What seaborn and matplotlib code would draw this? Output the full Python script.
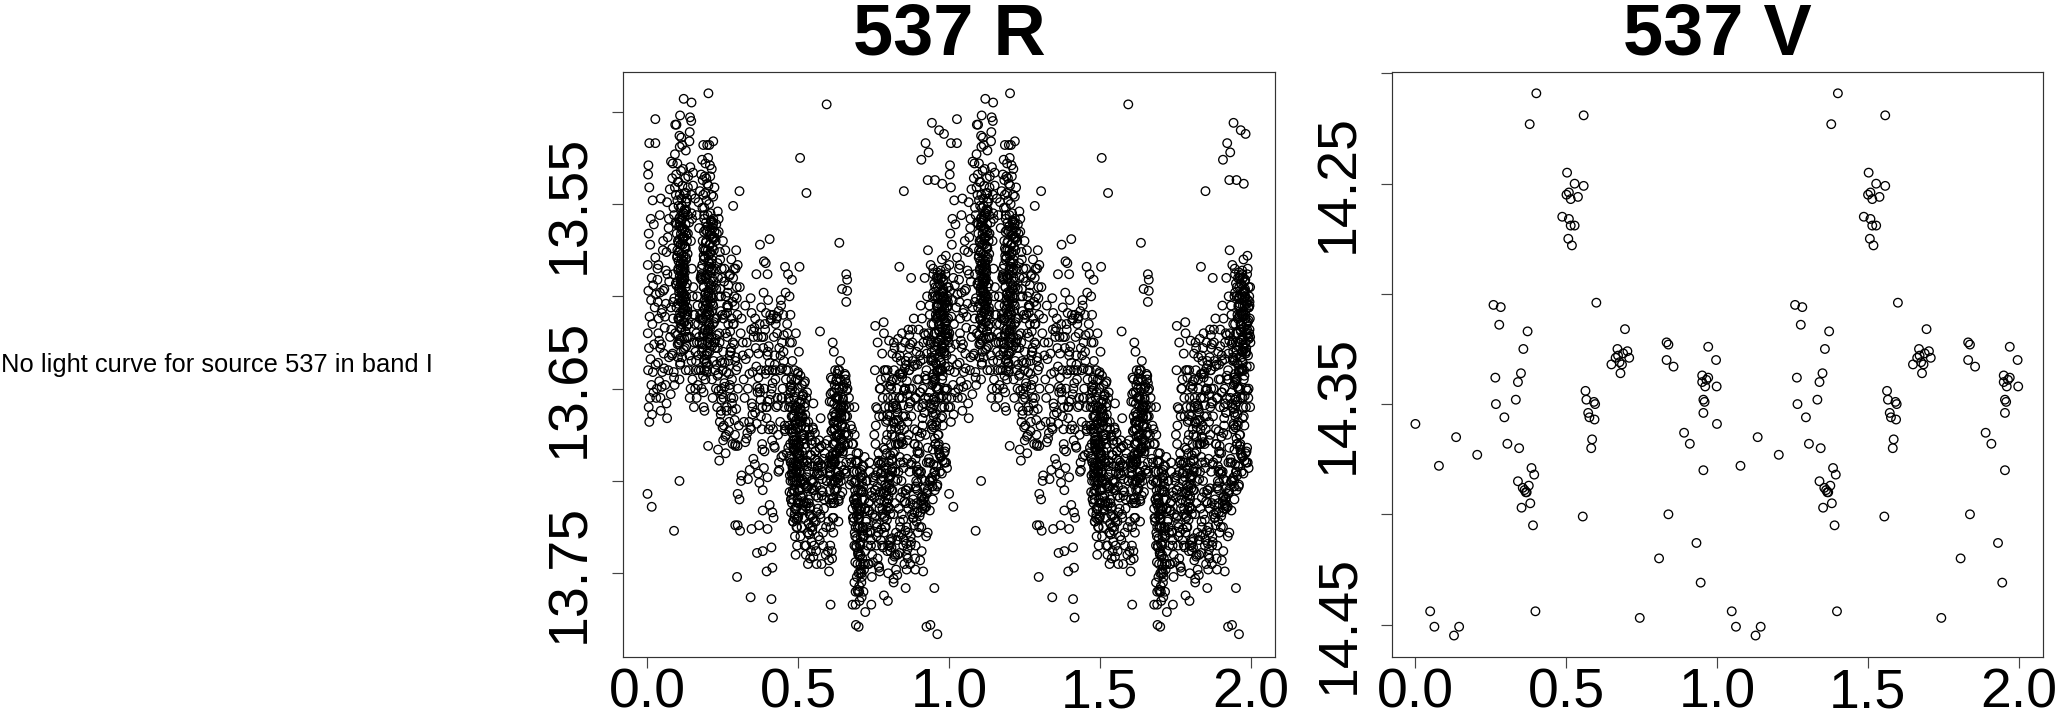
import matplotlib
matplotlib.use("Agg")
import matplotlib.pyplot as plt
import pandas as pd
import seaborn as sns

# ---- V band, one cycle ----
v_phase = [.000,.049,.063,.078,.128,.135,.145,.205,.259,.265,.267,.278,.283,.295,.305,.333,.340,.340,.344,.350,
           .352,.358,.356,.362,.366,.369,.376,.372,.379,.381,.385,.390,.394,.398,.401,.487,.503,.501,.507,.509,
           .509,.515,.515,.519,.528,.528,.539,.555,.558,.558,.564,.567,.573,.577,.586,.583,.592,.596,.594,.600,
           .650,.664,.670,.672,.677,.680,.685,.689,.695,.703,.709,.744,.808,.833,.839,.833,.839,.856,.891,.910,
           .932,.946,.951,.951,.955,.959,.955,.955,.961,.965,.971,.971,.997,.999]
v_mag = [14.359,14.444,14.451,14.378,14.455,14.365,14.451,14.373,14.305,14.338,14.350,14.314,14.306,14.356,14.368,14.348,14.385,14.340,14.370,14.336,
         14.397,14.325,14.388,14.389,14.390,14.390,14.387,14.317,14.223,14.395,14.379,14.405,14.382,14.444,14.209,14.265,14.245,14.255,14.275,14.254,
         14.266,14.269,14.257,14.278,14.250,14.269,14.256,14.401,14.219,14.251,14.344,14.348,14.354,14.356,14.366,14.370,14.349,14.350,14.357,14.304,
         14.332,14.329,14.325,14.328,14.331,14.336,14.332,14.327,14.316,14.326,14.329,14.447,14.420,14.322,14.323,14.330,14.400,14.333,14.363,14.368,
         14.413,14.431,14.337,14.340,14.348,14.349,14.354,14.380,14.342,14.339,14.338,14.324,14.330,14.342]

# ---- R band, isolated points of one cycle ----
r_edge_phase = [.202,.120,.146,.594,.026,.108,.141,.145,.092,.096,.140,.106,.006,.026,.218,.198,.185,.205,.003,.506,
                .527,.636,.305,.284,.405,.373,.386,.392,.361,.398,.456,.504,.466,.479,.294,.299,.659,.662,.645,.662,
                .659,.342,.345,.572,.755,.835,.850,.943,.967,.983,.922,.932,.908,.929,.953,.977,.000,.014,.106,.088,
                .201,.291,.299,.310,.299,.305,.291,.299,.307,.297,.342,.345,.370,.398,.363,.382,.411,.395,.414,.411,
                .416,.382,.398,.382,.405,.414,.418,.607,.602,.602,.691,.700,.690,.698,.690,.722,.742,.710,.680,.784,
                .797,.816,.856,.859,.914,.904,.925,.938,.961,.951,.960,.935,.985,.970]
r_edge_mag = [13.490,13.493,13.495,13.496,13.504,13.502,13.503,13.505,13.507,13.507,13.511,13.513,13.517,13.517,13.516,13.518,13.518,13.518,13.529,13.525,
              13.544,13.571,13.543,13.551,13.569,13.572,13.581,13.582,13.588,13.588,13.584,13.584,13.588,13.591,13.575,13.583,13.588,13.591,13.596,13.597,
              13.603,13.601,13.609,13.619,13.616,13.584,13.543,13.506,13.510,13.512,13.517,13.522,13.526,13.537,13.537,13.539,13.707,13.714,13.700,13.727,
              13.681,13.680,13.681,13.700,13.707,13.710,13.724,13.724,13.727,13.752,13.763,13.726,13.724,13.726,13.739,13.738,13.736,13.749,13.747,13.764,
              13.774,13.705,13.698,13.716,13.713,13.717,13.720,13.767,13.749,13.743,13.778,13.779,13.760,13.760,13.767,13.771,13.767,13.763,13.767,13.762,
              13.765,13.755,13.758,13.748,13.749,13.743,13.779,13.778,13.783,13.758,13.703,13.700,13.690,13.695]

# ---- R band, crowded part of one cycle, estimated by eye ----
r_core_phase = [
 .002,.006,.011,.004,.017,.009,.021,.001,.014,.026, .003,.012,.019,.007,.024,.001,.016,.028,.005,.010,
 .022,.002,.013,.008,.018,.004,.027,.015,.006,.020, .033,.041,.037,.052,.046,.061,.035,.057,.072,.049,
 .039,.066,.043,.075,.054,.031,.069,.047,.063,.078, .036,.059,.044,.071,.051,.034,.077,.065,.056,.042,
 .084,.091,.088,.095,.082,.099,.086,.093,.097,.089, .101,.085,.103,.092,.107,.098,.083,.105,.094,.109,
 .111,.096,.113,.087,.115,.102,.118,.090,.112,.104, .116,.108,.121,.100,.117,.110,.123,.106,.119,.114,
 .125,.112,.122,.109,.127,.115,.120,.104,.124,.118, .129,.107,.126,.113,.131,.119,.128,.111,.133,.116,
 .122,.103,.125,.110,.130,.114,.127,.108,.120,.117, .113,.123,.106,.128,.118,.132,.101,.121,.126,.115,
 .111,.124,.119,.105,.129,.116,.122,.134,.109,.127, .135,.138,.142,.136,.145,.139,.148,.141,.151,.144,
 .153,.137,.147,.155,.143,.150,.140,.157,.146,.152, .159,.149,.156,.162,.154,.160,.164,.158,.166,.161,
 .168,.163,.170,.165,.172,.167,.174,.169,.176,.171, .178,.182,.175,.185,.180,.188,.177,.183,.190,.186,
 .192,.179,.194,.184,.187,.196,.181,.191,.198,.189, .193,.200,.186,.195,.202,.184,.197,.204,.190,.199,
 .206,.188,.201,.208,.194,.203,.210,.192,.205,.212, .197,.207,.183,.214,.200,.209,.191,.216,.204,.211,
 .196,.218,.206,.186,.213,.199,.220,.208,.193,.215, .202,.217,.189,.222,.210,.198,.219,.205,.224,.212,
 .226,.214,.228,.221,.230,.216,.232,.223,.234,.218, .236,.225,.238,.220,.240,.227,.242,.229,.244,.231,
 .246,.233,.248,.235,.250,.237,.252,.239,.254,.241, .256,.243,.258,.245,.260,.247,.262,.249,.264,.251,
 .266,.253,.268,.255,.270,.257,.272,.259,.274,.261, .276,.263,.278,.265,.280,.267,.282,.269,.284,.271,
 .286,.273,.288,.275,.290,.277,.292,.279,.294,.281, .296,.283,.298,.285,.300,.287,.303,.289,.306,.291,
 .309,.312,.316,.320,.324,.329,.333,.338,.343,.348, .352,.357,.361,.365,.368,.372,.375,.378,.381,.384,
 .387,.390,.393,.396,.399,.402,.405,.408,.411,.414, .366,.371,.376,.380,.385,.389,.394,.398,.403,.407,
 .412,.416,.419,.422,.425,.428,.431,.434,.437,.440, .417,.421,.424,.427,.430,.433,.436,.439,.442,.444,
 .446,.448,.450,.452,.454,.456,.458,.460,.462,.464, .443,.447,.451,.455,.459,.463,.467,.471,.475,.479,
 .466,.468,.470,.472,.474,.476,.478,.480,.482,.484, .486,.488,.490,.492,.494,.496,.498,.500,.502,.504,
 .469,.473,.477,.481,.485,.489,.493,.497,.501,.505, .470,.475,.480,.483,.487,.491,.495,.499,.503,.507,
 .472,.478,.482,.486,.490,.494,.498,.502,.506,.509, .474,.479,.484,.488,.492,.496,.500,.504,.508,.511,
 .476,.481,.485,.489,.493,.497,.501,.505,.510,.513, .483,.487,.491,.495,.499,.503,.507,.512,.515,.518,
 .514,.517,.520,.523,.526,.529,.532,.535,.538,.541, .516,.519,.522,.525,.528,.531,.534,.537,.540,.543,
 .521,.524,.527,.530,.533,.536,.539,.542,.545,.548, .544,.547,.550,.553,.556,.559,.562,.565,.568,.571,
 .546,.549,.552,.555,.558,.561,.564,.567,.570,.573, .574,.577,.580,.583,.586,.589,.592,.595,.598,.601,
 .576,.579,.582,.585,.588,.591,.594,.597,.600,.603, .604,.606,.608,.610,.612,.614,.616,.618,.620,.622,
 .605,.607,.609,.611,.613,.615,.617,.619,.621,.623, .610,.612,.614,.616,.618,.620,.622,.624,.626,.628,
 .625,.627,.629,.631,.633,.635,.637,.639,.641,.643, .615,.618,.621,.624,.627,.630,.633,.636,.639,.642,
 .612,.616,.620,.624,.628,.632,.636,.640,.644,.648, .645,.648,.651,.654,.657,.660,.663,.666,.669,.672,
 .646,.650,.653,.656,.659,.662,.665,.668,.671,.674, .676,.678,.680,.682,.684,.686,.688,.690,.692,.694,
 .677,.679,.681,.683,.685,.687,.689,.691,.693,.695, .696,.698,.700,.702,.704,.706,.708,.710,.712,.714,
 .697,.699,.701,.703,.705,.707,.709,.711,.713,.715, .684,.688,.692,.696,.700,.704,.708,.712,.716,.720,
 .686,.690,.694,.698,.702,.706,.710,.714,.718,.722, .716,.719,.722,.725,.728,.731,.734,.737,.740,.743,
 .721,.724,.727,.730,.733,.736,.739,.742,.745,.748, .750,.753,.756,.759,.762,.765,.768,.771,.774,.777,
 .752,.755,.758,.761,.764,.767,.770,.773,.776,.779, .754,.757,.760,.763,.766,.769,.772,.775,.778,.781,
 .780,.783,.786,.789,.792,.795,.798,.801,.804,.807, .782,.785,.788,.791,.794,.797,.800,.803,.806,.809,
 .784,.787,.790,.793,.796,.799,.802,.805,.808,.811, .810,.813,.816,.819,.822,.825,.828,.831,.834,.837,
 .812,.815,.818,.821,.824,.827,.830,.833,.836,.839, .814,.817,.820,.823,.826,.829,.832,.835,.838,.841,
 .840,.843,.846,.849,.852,.855,.858,.861,.864,.867, .842,.845,.848,.851,.854,.857,.860,.863,.866,.869,
 .844,.847,.850,.853,.856,.859,.862,.865,.868,.871, .870,.873,.876,.879,.882,.885,.888,.891,.894,.897,
 .872,.875,.878,.881,.884,.887,.890,.893,.896,.899, .874,.877,.880,.883,.886,.889,.892,.895,.898,.901,
 .900,.903,.906,.909,.912,.915,.918,.921,.924,.927, .902,.905,.908,.911,.914,.917,.920,.923,.926,.929,
 .904,.907,.910,.913,.916,.919,.922,.925,.928,.931, .930,.933,.936,.939,.942,.945,.948,.951,.954,.957,
 .932,.935,.938,.941,.944,.947,.950,.953,.956,.959, .946,.949,.952,.955,.958,.961,.964,.967,.970,.973,
 .948,.951,.954,.957,.960,.963,.966,.969,.972,.975, .960,.962,.965,.968,.971,.974,.977,.980,.983,.986,
 .962,.964,.967,.970,.973,.976,.979,.982,.985,.988, .972,.975,.978,.981,.984,.987,.990,.993,.996,.999,
 .974,.977,.980,.983,.986,.989,.992,.995,.998,.997, .976,.979,.982,.985,.988,.991,.994,.996,.998,.993,
]
r_core_mag = [
 13.534,13.541,13.558,13.566,13.548,13.572,13.561,13.583,13.590,13.579, 13.597,13.602,13.594,13.611,13.606,13.620,13.615,13.599,13.628,13.634,
 13.626,13.640,13.648,13.655,13.641,13.660,13.637,13.664,13.668,13.652, 13.585,13.598,13.612,13.570,13.626,13.604,13.636,13.617,13.592,13.641,
 13.646,13.588,13.655,13.622,13.631,13.650,13.640,13.609,13.658,13.606, 13.620,13.648,13.662,13.633,13.575,13.603,13.653,13.666,13.596,13.628,
 13.528,13.541,13.556,13.534,13.574,13.548,13.588,13.560,13.566,13.601, 13.538,13.612,13.551,13.620,13.545,13.579,13.631,13.562,13.593,13.572,
 13.532,13.606,13.547,13.641,13.558,13.585,13.569,13.648,13.596,13.576, 13.540,13.609,13.555,13.626,13.568,13.582,13.553,13.601,13.578,13.590,
 13.536,13.617,13.564,13.636,13.544,13.593,13.583,13.612,13.574,13.604, 13.549,13.623,13.561,13.598,13.570,13.587,13.580,13.630,13.556,13.608,
 13.590,13.625,13.603,13.572,13.616,13.563,13.595,13.637,13.581,13.568, 13.577,13.585,13.645,13.600,13.592,13.610,13.633,13.607,13.619,13.586,
 13.566,13.573,13.614,13.598,13.627,13.602,13.591,13.622,13.552,13.640, 13.535,13.560,13.530,13.615,13.545,13.632,13.558,13.622,13.540,13.570,
 13.610,13.640,13.585,13.625,13.650,13.600,13.655,13.615,13.635,13.595, 13.630,13.645,13.610,13.620,13.660,13.640,13.625,13.650,13.605,13.635,
 13.615,13.655,13.640,13.600,13.625,13.648,13.612,13.632,13.590,13.622, 13.585,13.552,13.610,13.545,13.630,13.558,13.640,13.570,13.535,13.595,
 13.544,13.650,13.560,13.605,13.580,13.548,13.625,13.618,13.565,13.640, 13.575,13.556,13.660,13.590,13.540,13.612,13.600,13.550,13.632,13.620,
 13.565,13.575,13.585,13.535,13.610,13.598,13.560,13.645,13.625,13.545, 13.636,13.572,13.628,13.590,13.608,13.555,13.618,13.568,13.582,13.600,
 13.640,13.560,13.610,13.652,13.580,13.625,13.575,13.595,13.590,13.568, 13.578,13.615,13.662,13.565,13.603,13.588,13.635,13.630,13.585,13.622,
 13.570,13.645,13.596,13.612,13.566,13.655,13.582,13.625,13.590,13.605, 13.565,13.640,13.620,13.595,13.576,13.650,13.635,13.612,13.600,13.660,
 13.585,13.628,13.610,13.642,13.570,13.600,13.655,13.625,13.592,13.580, 13.636,13.608,13.575,13.650,13.620,13.590,13.662,13.640,13.605,13.630,
 13.598,13.670,13.615,13.585,13.642,13.610,13.650,13.600,13.588,13.675, 13.630,13.660,13.580,13.622,13.645,13.605,13.680,13.635,13.590,13.668,
 13.615,13.648,13.600,13.630,13.675,13.655,13.585,13.612,13.640,13.662, 13.595,13.625,13.610,13.655,13.650,13.585,13.670,13.605,13.595,13.635,
 13.620,13.612,13.632,13.668,13.605,13.625,13.650,13.642,13.672,13.660, 13.622,13.612,13.638,13.652,13.631,13.615,13.640,13.622,13.660,13.628,
 13.650,13.618,13.640,13.660,13.630,13.672,13.656,13.670,13.612,13.640, 13.622,13.650,13.665,13.680,13.598,13.615,13.660,13.632,13.640,13.610,
 13.650,13.672,13.622,13.682,13.640,13.612,13.655,13.695,13.628,13.668, 13.610,13.632,13.645,13.660,13.620,13.675,13.690,13.640,13.602,13.655,
 13.625,13.650,13.610,13.635,13.660,13.672,13.598,13.640,13.685,13.620, 13.605,13.655,13.630,13.670,13.645,13.615,13.682,13.600,13.660,13.625,
 13.640,13.655,13.670,13.625,13.610,13.690,13.648,13.635,13.665,13.680, 13.655,13.640,13.672,13.620,13.695,13.660,13.645,13.680,13.630,13.705,
 13.660,13.680,13.645,13.700,13.670,13.652,13.715,13.685,13.665,13.695, 13.672,13.690,13.650,13.710,13.678,13.660,13.700,13.720,13.685,13.668,
 13.688,13.665,13.705,13.676,13.695,13.725,13.682,13.712,13.658,13.700, 13.700,13.672,13.690,13.715,13.680,13.735,13.705,13.668,13.692,13.725,
 13.710,13.695,13.680,13.730,13.700,13.720,13.688,13.705,13.715,13.675, 13.722,13.700,13.740,13.685,13.712,13.695,13.730,13.678,13.708,13.690,
 13.665,13.700,13.720,13.682,13.735,13.692,13.745,13.710,13.675,13.725, 13.690,13.712,13.680,13.740,13.698,13.728,13.672,13.718,13.686,13.704,
 13.735,13.668,13.712,13.690,13.728,13.695,13.742,13.700,13.678,13.720, 13.680,13.725,13.658,13.705,13.684,13.738,13.696,13.715,13.690,13.732,
 13.700,13.672,13.722,13.688,13.708,13.745,13.692,13.730,13.682,13.718, 13.720,13.745,13.695,13.735,13.710,13.680,13.725,13.700,13.738,13.690,
 13.705,13.692,13.728,13.715,13.685,13.740,13.700,13.678,13.722,13.710, 13.695,13.735,13.712,13.690,13.742,13.720,13.728,13.700,13.680,13.668,
 13.705,13.725,13.692,13.738,13.710,13.685,13.720,13.652,13.672,13.700, 13.690,13.665,13.625,13.680,13.630,13.712,13.640,13.695,13.655,13.670,
 13.705,13.645,13.685,13.660,13.722,13.650,13.675,13.635,13.700,13.665, 13.672,13.690,13.648,13.665,13.685,13.655,13.710,13.640,13.678,13.660,
 13.645,13.668,13.690,13.655,13.675,13.640,13.698,13.660,13.682,13.650, 13.670,13.655,13.680,13.642,13.665,13.695,13.650,13.675,13.660,13.688,
 13.685,13.660,13.675,13.645,13.690,13.665,13.680,13.655,13.702,13.670, 13.690,13.672,13.715,13.680,13.695,13.660,13.705,13.725,13.690,13.710,
 13.700,13.680,13.720,13.695,13.710,13.675,13.730,13.700,13.685,13.715, 13.745,13.705,13.720,13.760,13.695,13.735,13.715,13.750,13.710,13.725,
 13.690,13.740,13.715,13.765,13.705,13.730,13.755,13.700,13.725,13.745, 13.720,13.700,13.735,13.712,13.750,13.725,13.698,13.742,13.760,13.715,
 13.735,13.708,13.752,13.725,13.718,13.740,13.705,13.730,13.748,13.715, 13.692,13.710,13.738,13.700,13.725,13.716,13.745,13.695,13.732,13.706,
 13.745,13.722,13.700,13.735,13.712,13.690,13.728,13.708,13.740,13.698, 13.700,13.720,13.680,13.735,13.695,13.728,13.665,13.710,13.645,13.690,
 13.675,13.705,13.660,13.725,13.690,13.712,13.650,13.732,13.695,13.718, 13.640,13.670,13.730,13.625,13.685,13.715,13.650,13.700,13.735,13.665,
 13.655,13.690,13.720,13.640,13.705,13.675,13.735,13.660,13.715,13.680, 13.698,13.640,13.725,13.668,13.712,13.655,13.690,13.735,13.648,13.705,
 13.620,13.660,13.725,13.685,13.640,13.710,13.665,13.738,13.650,13.695, 13.675,13.645,13.718,13.628,13.700,13.660,13.732,13.680,13.655,13.722,
 13.705,13.668,13.640,13.695,13.728,13.650,13.680,13.715,13.632,13.690, 13.660,13.625,13.712,13.680,13.645,13.740,13.695,13.655,13.725,13.670,
 13.635,13.718,13.665,13.690,13.745,13.650,13.705,13.678,13.728,13.640, 13.700,13.655,13.735,13.672,13.625,13.712,13.688,13.742,13.660,13.695,
 13.620,13.680,13.732,13.650,13.705,13.740,13.668,13.715,13.640,13.745, 13.658,13.730,13.690,13.635,13.720,13.672,13.748,13.700,13.645,13.685,
 13.735,13.665,13.625,13.710,13.680,13.742,13.655,13.695,13.728,13.618, 13.590,13.650,13.720,13.612,13.680,13.735,13.630,13.705,13.660,13.725,
 13.645,13.695,13.605,13.738,13.670,13.625,13.715,13.655,13.730,13.600, 13.685,13.635,13.725,13.660,13.712,13.620,13.700,13.645,13.690,13.728,
 13.632,13.695,13.612,13.650,13.710,13.590,13.675,13.640,13.705,13.620, 13.575,13.690,13.610,13.660,13.630,13.700,13.598,13.645,13.680,13.620,
 13.655,13.605,13.690,13.635,13.670,13.585,13.625,13.695,13.610,13.650, 13.600,13.665,13.620,13.680,13.590,13.640,13.610,13.685,13.630,13.655,
 13.615,13.645,13.595,13.670,13.625,13.605,13.680,13.640,13.588,13.660, 13.650,13.600,13.675,13.615,13.635,13.590,13.665,13.605,13.625,13.690,
 13.595,13.625,13.655,13.610,13.640,13.580,13.670,13.600,13.630,13.615, 13.610,13.590,13.640,13.600,13.660,13.620,13.585,13.650,13.605,13.625,
 13.605,13.645,13.592,13.630,13.615,13.578,13.655,13.600,13.622,13.638, 13.628,13.598,13.612,13.650,13.588,13.632,13.606,13.618,13.660,13.595,
]

# ---- R band, the blackest knots of one cycle, estimated by eye ----
r_knot_phase = [
 .097,.119,.108,.127,.102,.114,.131,.105,.122,.111,.099,.117,.125,.107,.134,.113,.103,.120,.128,.109,
 .116,.101,.124,.112,.130,.106,.118,.098,.126,.110,.133,.104,.121,.115,.129,.100,.123,.108,.119,.127,
 .106,.113,.131,.102,.117,.125,.110,.096,.122,.114,.128,.105,.120,.111,.132,.103,.116,.124,.109,.118,
 .112,.126,.104,.121,.099,.115,.130,.107,.123,.113,.101,.119,.127,.108,.117,.133,.105,.122,.110,.125,
 .182,.205,.193,.214,.187,.199,.221,.190,.208,.196,.178,.211,.184,.202,.218,.192,.206,.188,.215,.198,
 .201,.180,.209,.194,.223,.186,.204,.197,.217,.183,.212,.191,.200,.207,.189,.219,.195,.179,.210,.203,
 .185,.216,.198,.192,.208,.181,.213,.201,.188,.220,.194,.205,.183,.211,.197,.190,.217,.203,.186,.209,
 .193,.222,.200,.184,.214,.196,.207,.189,.218,.202,.182,.212,.195,.205,.187,.215,.199,.191,.210,.204,
 .475,.512,.493,.524,.481,.503,.488,.517,.498,.528,.471,.508,.485,.520,.495,.479,.514,.501,.491,.526,
 .483,.506,.497,.519,.473,.510,.489,.522,.500,.477,.515,.492,.505,.486,.530,.496,.511,.482,.518,.499,
 .504,.474,.513,.490,.525,.484,.507,.494,.521,.478,.509,.487,.516,.502,.472,.523,.497,.480,.512,.491,
 .519,.486,.503,.476,.515,.495,.527,.483,.508,.498,.470,.517,.489,.506,.493,.522,.481,.511,.500,.485,
 .494,.508,.478,.516,.501,.487,.524,.496,.473,.513,.490,.505,.482,.520,.499,.476,.510,.492,.529,.484,
 .532,.556,.541,.572,.548,.535,.563,.581,.544,.569,.538,.553,.577,.546,.560,.533,.575,.550,.566,.543,
 .558,.537,.579,.552,.565,.540,.571,.547,.555,.536,.583,.561,.549,.574,.542,.568,.534,.557,.578,.545,
 .604,.637,.618,.652,.626,.610,.644,.632,.614,.660,.622,.640,.607,.648,.629,.616,.655,.635,.611,.642,
 .624,.650,.606,.638,.620,.658,.631,.613,.646,.627,.608,.653,.634,.619,.641,.623,.656,.612,.636,.628,
 .645,.617,.633,.651,.609,.625,.643,.630,.615,.657,.639,.621,.649,.605,.634,.626,.647,.613,.654,.637,
 .630,.611,.642,.622,.659,.636,.618,.646,.628,.607,.652,.633,.616,.640,.624,.655,.610,.638,.620,.648,
 .688,.702,.694,.711,.698,.685,.706,.716,.691,.700,.709,.696,.683,.713,.704,.690,.718,.699,.707,.693,
 .697,.712,.686,.703,.692,.715,.701,.689,.708,.695,.720,.705,.684,.710,.698,.687,.714,.702,.694,.706,
 .782,.825,.803,.847,.791,.816,.869,.798,.838,.811,.858,.787,.829,.806,.851,.794,.834,.820,.864,.800,
 .814,.785,.842,.808,.873,.796,.831,.855,.818,.790,.845,.805,.866,.823,.793,.836,.812,.860,.801,.849,
 .827,.878,.788,.840,.809,.853,.799,.832,.871,.815,.862,.792,.844,.821,.804,.856,.835,.784,.868,.810,
 .889,.905,.918,.894,.926,.900,.912,.885,.921,.897,.908,.929,.891,.915,.903,.924,.887,.910,.919,.895,
 .942,.967,.955,.984,.948,.973,.936,.961,.990,.952,.978,.945,.969,.958,.995,.939,.975,.950,.964,.987,
 .957,.981,.944,.970,.996,.953,.963,.941,.977,.949,.992,.960,.972,.937,.983,.956,.968,.947,.988,.965,
 .974,.943,.959,.993,.951,.979,.966,.938,.985,.954,.971,.946,.962,.998,.980,.940,.976,.950,.967,.991,
 .958,.982,.944,.969,.953,.986,.963,.975,.948,.994,.955,.977,.942,.965,.989,.952,.973,.960,.984,.947,
 .971,.956,.997,.943,.964,.979,.950,.988,.961,.974,.945,.968,.992,.954,.981,.949,.966,.957,.986,.970,
]
r_knot_mag = [
 13.561,13.607,13.583,13.574,13.612,13.551,13.593,13.626,13.568,13.603,13.578,13.556,13.619,13.589,13.566,13.597,13.581,13.629,13.553,13.611,
 13.572,13.604,13.587,13.559,13.616,13.595,13.563,13.621,13.549,13.585,13.608,13.576,13.599,13.633,13.567,13.592,13.614,13.557,13.582,13.602,
 13.569,13.618,13.547,13.586,13.609,13.573,13.624,13.594,13.601,13.564,13.579,13.613,13.555,13.591,13.606,13.571,13.584,13.628,13.562,13.598,
 13.615,13.554,13.596,13.605,13.575,13.588,13.622,13.560,13.610,13.580,13.570,13.600,13.565,13.617,13.590,13.577,13.558,13.623,13.593,13.607,
 13.583,13.609,13.571,13.627,13.595,13.562,13.614,13.602,13.576,13.632,13.589,13.566,13.620,13.597,13.558,13.611,13.584,13.635,13.573,13.604,
 13.618,13.591,13.567,13.605,13.628,13.578,13.593,13.641,13.561,13.612,13.586,13.599,13.575,13.623,13.607,13.569,13.636,13.588,13.596,13.615,
 13.574,13.601,13.630,13.564,13.617,13.590,13.608,13.581,13.556,13.625,13.603,13.572,13.613,13.594,13.638,13.579,13.563,13.606,13.621,13.587,
 13.598,13.568,13.619,13.643,13.585,13.610,13.577,13.634,13.592,13.600,13.626,13.582,13.570,13.616,13.565,13.604,13.631,13.589,13.559,13.622,
 13.652,13.684,13.667,13.701,13.693,13.657,13.718,13.675,13.642,13.689,13.706,13.661,13.696,13.647,13.679,13.712,13.654,13.687,13.669,13.703,
 13.722,13.663,13.691,13.677,13.649,13.709,13.683,13.658,13.698,13.672,13.716,13.645,13.686,13.665,13.704,13.692,13.656,13.678,13.711,13.671,
 13.688,13.651,13.699,13.668,13.714,13.682,13.643,13.694,13.660,13.707,13.676,13.720,13.653,13.685,13.697,13.664,13.710,13.674,13.648,13.690,
 13.702,13.659,13.681,13.717,13.666,13.695,13.655,13.673,13.708,13.650,13.687,13.713,13.662,13.700,13.678,13.646,13.692,13.670,13.719,13.683,
 13.721,13.665,13.696,13.654,13.680,13.705,13.671,13.725,13.657,13.689,13.715,13.661,13.698,13.675,13.641,13.710,13.668,13.702,13.652,13.693,
 13.703,13.684,13.719,13.697,13.671,13.712,13.689,13.706,13.733,13.678,13.715,13.695,13.681,13.727,13.703,13.668,13.691,13.741,13.709,13.686,
 13.722,13.676,13.699,13.735,13.693,13.714,13.682,13.705,13.674,13.729,13.688,13.717,13.701,13.666,13.738,13.696,13.723,13.679,13.708,13.692,
 13.657,13.682,13.668,13.694,13.646,13.673,13.659,13.701,13.688,13.651,13.676,13.663,13.697,13.684,13.642,13.709,13.671,13.656,13.691,13.666,
 13.679,13.648,13.693,13.661,13.705,13.674,13.654,13.686,13.669,13.698,13.644,13.681,13.711,13.658,13.677,13.664,13.696,13.652,13.683,13.704,
 13.662,13.689,13.675,13.649,13.700,13.667,13.692,13.655,13.680,13.643,13.708,13.672,13.660,13.687,13.695,13.650,13.678,13.702,13.665,13.684,
 13.699,13.657,13.670,13.690,13.647,13.682,13.663,13.706,13.676,13.653,13.694,13.668,13.712,13.645,13.685,13.659,13.673,13.697,13.688,13.656,
 13.712,13.734,13.695,13.752,13.718,13.701,13.745,13.727,13.689,13.738,13.706,13.759,13.722,13.697,13.741,13.713,13.730,13.685,13.748,13.709,
 13.725,13.692,13.755,13.716,13.736,13.703,13.721,13.744,13.698,13.731,13.687,13.750,13.710,13.694,13.739,13.728,13.706,13.757,13.719,13.733,
 13.682,13.667,13.704,13.641,13.693,13.658,13.628,13.714,13.676,13.688,13.637,13.706,13.663,13.697,13.651,13.721,13.672,13.684,13.633,13.699,
 13.655,13.711,13.679,13.646,13.691,13.664,13.623,13.707,13.669,13.696,13.642,13.718,13.675,13.659,13.703,13.687,13.631,13.725,13.649,13.693,
 13.661,13.618,13.702,13.677,13.694,13.639,13.708,13.667,13.626,13.685,13.653,13.716,13.644,13.671,13.698,13.635,13.680,13.728,13.621,13.689,
 13.688,13.652,13.704,13.673,13.631,13.696,13.666,13.717,13.643,13.681,13.709,13.624,13.692,13.658,13.676,13.714,13.637,13.699,13.663,13.684,
 13.615,13.593,13.636,13.607,13.588,13.622,13.652,13.601,13.614,13.632,13.597,13.644,13.609,13.668,13.620,13.583,13.627,13.659,13.604,13.638,
 13.612,13.596,13.648,13.624,13.603,13.677,13.590,13.633,13.617,13.656,13.606,13.641,13.586,13.626,13.610,13.664,13.599,13.635,13.621,13.650,
 13.630,13.672,13.605,13.613,13.593,13.643,13.618,13.658,13.628,13.600,13.639,13.683,13.611,13.595,13.654,13.625,13.608,13.646,13.619,13.602,
 13.637,13.591,13.661,13.616,13.629,13.604,13.675,13.598,13.642,13.623,13.657,13.610,13.634,13.589,13.651,13.620,13.666,13.606,13.631,13.647,
 13.594,13.627,13.612,13.669,13.640,13.601,13.655,13.618,13.587,13.636,13.663,13.609,13.622,13.645,13.597,13.671,13.615,13.649,13.603,13.633,
]

# ---- R band, the thinner halo around the knots, estimated by eye ----
r_halo_phase = [
 .078,.112,.094,.151,.086,.127,.103,.139,.071,.118,.158,.091,.134,.107,.082,.146,.099,.123,.065,.115,
 .163,.192,.174,.228,.183,.213,.169,.201,.236,.178,.222,.188,.207,.171,.218,.195,.233,.181,.211,.198,
 .036,.058,.044,.081,.067,.029,.052,.074,.039,.063,.085,.047,.033,.070,.055,.079,.041,.061,.088,.049,
 .226,.262,.241,.289,.252,.234,.277,.247,.296,.258,.229,.271,.244,.284,.255,.238,.293,.266,.249,.280,
 .232,.274,.259,.298,.243,.268,.236,.287,.251,.264,.245,.291,.273,.240,.282,.256,.230,.270,.248,.294,
 .322,.351,.336,.379,.344,.312,.368,.393,.328,.357,.405,.339,.373,.316,.388,.349,.362,.425,.333,.398,
 .413,.441,.377,.356,.432,.319,.384,.450,.341,.408,.364,.437,.326,.395,.352,.420,.371,.446,.346,.402,
 .386,.429,.331,.415,.359,.444,.375,.400,.337,.422,.367,.452,.324,.391,.348,.435,.381,.410,.355,.456,
 .726,.781,.752,.824,.739,.798,.865,.763,.811,.744,.877,.772,.836,.788,.731,.852,.806,.757,.889,.819,
 .768,.842,.735,.795,.871,.759,.828,.783,.748,.858,.802,.775,.895,.816,.741,.848,.791,.766,.833,.880,
 .754,.813,.729,.862,.786,.845,.770,.804,.884,.737,.821,.779,.855,.761,.798,.874,.746,.838,.809,.892,
 .762,.835,.787,.914,.808,.851,.774,.925,.842,.795,.881,.767,.903,.819,.865,.778,.918,.829,.790,.872,
 .801,.929,.848,.771,.895,.816,.860,.783,.909,.826,.756,.887,.838,.921,.805,.869,.792,.899,.854,.812,
 .889,.943,.915,.972,.902,.958,.928,.986,.908,.951,.936,.979,.896,.964,.921,.993,.945,.911,.969,.955,
 .988,.918,.948,.905,.976,.933,.961,.893,.983,.940,.925,.966,.898,.953,.912,.990,.937,.974,.946,.959,
]
r_halo_mag = [
 13.527,13.514,13.545,13.533,13.552,13.521,13.538,13.516,13.558,13.531,13.547,13.523,13.541,13.519,13.536,13.555,13.528,13.544,13.549,13.518,
 13.556,13.528,13.543,13.561,13.537,13.531,13.549,13.525,13.558,13.534,13.541,13.552,13.529,13.563,13.546,13.536,13.554,13.526,13.559,13.539,
 13.583,13.611,13.547,13.632,13.568,13.655,13.597,13.542,13.624,13.576,13.603,13.649,13.591,13.563,13.639,13.618,13.556,13.586,13.644,13.607,
 13.623,13.641,13.596,13.667,13.612,13.683,13.628,13.653,13.601,13.676,13.637,13.589,13.662,13.615,13.647,13.689,13.633,13.606,13.671,13.658,
 13.643,13.619,13.685,13.638,13.664,13.594,13.651,13.626,13.678,13.609,13.656,13.681,13.632,13.668,13.603,13.649,13.621,13.673,13.636,13.661,
 13.655,13.688,13.631,13.672,13.618,13.697,13.644,13.609,13.677,13.663,13.636,13.694,13.652,13.625,13.684,13.641,13.669,13.615,13.699,13.657,
 13.678,13.632,13.606,13.691,13.659,13.645,13.622,13.686,13.671,13.613,13.649,13.694,13.634,13.666,13.619,13.681,13.701,13.639,13.658,13.627,
 13.693,13.611,13.674,13.647,13.628,13.687,13.656,13.602,13.668,13.637,13.696,13.621,13.679,13.642,13.664,13.608,13.683,13.653,13.617,13.673,
 13.721,13.736,13.709,13.748,13.727,13.714,13.704,13.742,13.731,13.752,13.718,13.706,13.739,13.725,13.745,13.711,13.733,13.719,13.703,13.741,
 13.747,13.729,13.716,13.738,13.712,13.723,13.751,13.707,13.744,13.734,13.702,13.726,13.717,13.753,13.735,13.721,13.708,13.746,13.730,13.713,
 13.705,13.743,13.728,13.737,13.719,13.706,13.749,13.732,13.724,13.711,13.740,13.715,13.727,13.703,13.750,13.733,13.718,13.709,13.736,13.722,
 13.661,13.642,13.683,13.634,13.672,13.651,13.696,13.645,13.628,13.667,13.638,13.689,13.652,13.676,13.618,13.631,13.663,13.699,13.644,13.657,
 13.624,13.682,13.659,13.691,13.637,13.668,13.646,13.614,13.674,13.633,13.697,13.655,13.642,13.621,13.686,13.650,13.678,13.627,13.665,13.693,
 13.704,13.698,13.713,13.687,13.719,13.692,13.706,13.684,13.711,13.695,13.716,13.689,13.701,13.681,13.714,13.693,13.703,13.708,13.686,13.697,
 13.682,13.709,13.691,13.717,13.696,13.688,13.702,13.712,13.685,13.699,13.707,13.683,13.694,13.705,13.715,13.690,13.700,13.687,13.710,13.692,
]

fig_w, fig_h = 2057, 711

sns.set_theme(style="ticks")
plt.rcParams["font.family"] = ["Liberation Sans", "DejaVu Sans"]


def folded(phase, mag):
    n = min(len(phase), len(mag))
    one = pd.DataFrame({"phase": phase[:n], "mag": mag[:n]})
    two = one.assign(phase=one["phase"] + 1)
    return pd.concat([one, two], ignore_index=True)


def panel(left, right, top, bottom, data, xlim, ylim, yticks, ylabels, title):
    ax = fig.add_axes([left / fig_w, 1 - bottom / fig_h,
                       (right - left) / fig_w, (bottom - top) / fig_h])
    sns.scatterplot(data=data, x="phase", y="mag", ax=ax, marker="o", s=38,
                    facecolors="none", edgecolors="black", linewidth=0.95,
                    legend=False, clip_on=True)
    ax.set_xlim(*xlim)
    ax.set_ylim(*ylim)
    ax.set_xlabel("")
    ax.set_ylabel("")
    ax.set_xticks([0, 0.5, 1, 1.5, 2])
    ax.set_xticklabels(["0.0", "0.5", "1.0", "1.5", "2.0"])
    ax.set_yticks(yticks)
    ax.set_yticklabels(ylabels, rotation=90, va="center")
    ax.tick_params(axis="both", length=7.7, width=0.85, color="#444444",
                   labelsize=40, labelcolor="black")
    ax.tick_params(axis="x", pad=0)
    ax.tick_params(axis="y", pad=11.5)
    for s in ax.spines.values():
        s.set_visible(True)
        s.set_linewidth(0.85)
        s.set_color("#333333")
    fig.text((left + right) / 2 / fig_w, 1 - 54.5 / fig_h, title, ha="center",
             va="baseline", fontsize=52, fontweight="bold", color="black")
    return ax


fig = plt.figure(figsize=(fig_w / 100, fig_h / 100), dpi=100, facecolor="white")

r_data = folded(r_edge_phase + r_core_phase + r_knot_phase + r_halo_phase,
                r_edge_mag + r_core_mag + r_knot_mag + r_halo_mag)
v_data = folded(v_phase, v_mag)

panel(623.3, 1275, 71.7, 656.7, r_data, (-0.0802, 2.0805), (13.7952, 13.4783),
      [13.50, 13.55, 13.60, 13.65, 13.70, 13.75],
      ["", "13.55", "", "13.65", "", "13.75"], "537 R")
panel(1391.7, 2042.7, 71.7, 656.7, v_data, (-0.0786, 2.0802), (14.4646, 14.1992),
      [14.20, 14.25, 14.30, 14.35, 14.40, 14.45],
      ["", "14.25", "", "14.35", "", "14.45"], "537 V")

fig.text(1 / fig_w, 1 - 365 / fig_h, "No light curve for source 537 in band I",
         ha="left", va="center", fontsize=18.4, color="black")

fig.savefig("out.png", dpi=100)
